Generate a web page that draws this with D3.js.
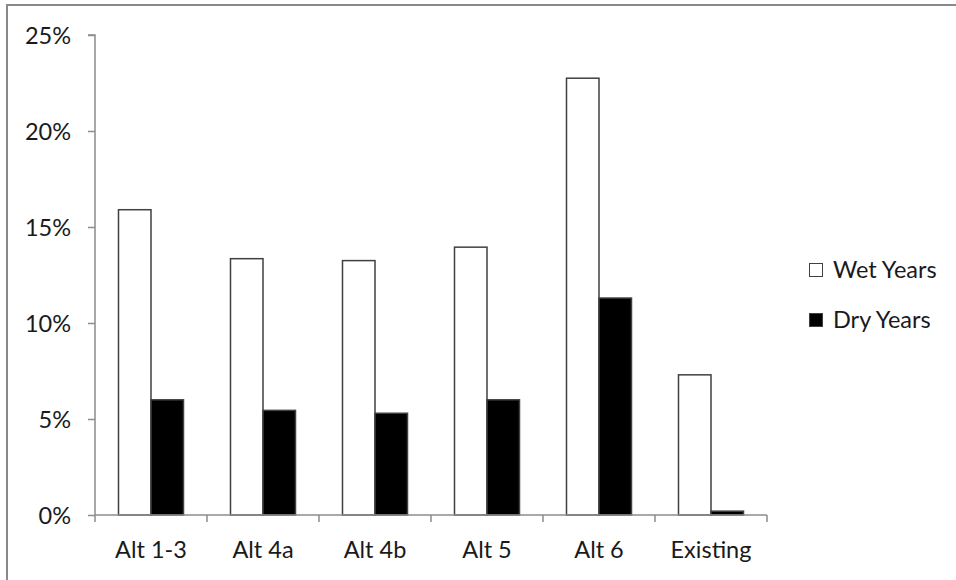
<!DOCTYPE html>
<html>
<head>
<meta charset="utf-8">
<script src="https://cdn.jsdelivr.net/npm/d3@7"></script>
<style>
  html, body { margin: 0; padding: 0; background: #fff; }
  svg { display: block; }
  text { font-family: Lato, "Open Sans", sans-serif; fill: #1a1a1a; }
</style>
</head>
<body>
<svg id="chart" width="956" height="580"></svg>
<script>
const categories = ["Alt 1-3", "Alt 4a", "Alt 4b", "Alt 5", "Alt 6", "Existing"];
const seriesNames = ["Wet Years", "Dry Years"];
const wetYears = [15.9, 13.35, 13.25, 13.95, 22.75, 7.3];
const dryYears = [6.0, 5.45, 5.3, 6.0, 11.3, 0.2];
const yTicks = [0, 5, 10, 15, 20, 25];

const fills = { "Wet Years": "#ffffff", "Dry Years": "#000000" };

const svg = d3.select("#chart");
const W = 956, H = 580;
const FS = "23.5px";

// outer chart border (left & top visible)
svg.append("line").attr("x1", 7).attr("x2", 7).attr("y1", 5).attr("y2", H)
  .attr("stroke", "#898989").attr("stroke-width", 2);
svg.append("line").attr("x1", 6).attr("x2", W).attr("y1", 5).attr("y2", 5)
  .attr("stroke", "#898989").attr("stroke-width", 2);

const plot = { left: 95, right: 767, top: 35, bottom: 515 };

const x0 = d3.scaleBand().domain(categories).range([plot.left, plot.right]).paddingInner(0).paddingOuter(0);
const x1 = d3.scaleBand().domain(seriesNames).range([0, x0.bandwidth()]).paddingInner(0).paddingOuter(0.723);
const y = d3.scaleLinear().domain([0, 25]).range([plot.bottom, plot.top]);

const data = categories.map((c, i) => ({ cat: c, values: [
  { key: "Wet Years", v: wetYears[i] },
  { key: "Dry Years", v: dryYears[i] }
]}));

// bars
const groups = svg.append("g").selectAll("g").data(data).join("g")
  .attr("transform", d => `translate(${x0(d.cat)},0)`);
groups.selectAll("rect").data(d => d.values).join("rect")
  .attr("x", d => x1(d.key))
  .attr("width", x1.bandwidth())
  .attr("y", d => y(d.v))
  .attr("height", d => y(0) - y(d.v))
  .attr("fill", d => fills[d.key])
  .attr("stroke", "#404040")
  .attr("stroke-width", 1.5);

// y axis
const yAxis = d3.axisLeft(y).tickValues(yTicks).tickFormat(d => d + "%").tickSize(7).tickPadding(17);
const gy = svg.append("g").attr("transform", `translate(${plot.left},0)`).call(yAxis);
gy.select(".domain").attr("stroke", "#8c8c8c").attr("stroke-width", 1.5).attr("d", `M-7,${plot.top}H0V${plot.bottom}`);
gy.selectAll(".tick line").attr("stroke", "#8c8c8c").attr("stroke-width", 1.5);
gy.selectAll(".tick text").style("font-size", FS).attr("fill", "#1a1a1a").attr("dy", "0.35em");

// x axis
const xAxis = d3.axisBottom(x0).tickSize(0).tickPadding(35);
const gx = svg.append("g").attr("transform", `translate(0,${plot.bottom})`).call(xAxis);
gx.select(".domain").attr("stroke", "#8c8c8c").attr("stroke-width", 1.5).attr("d", `M${plot.left},0H${plot.right}`);
gx.selectAll(".tick text").style("font-size", FS).attr("fill", "#1a1a1a").attr("dy", "0.35em");
// category boundary ticks
const bounds = categories.map(c => x0(c)).concat([plot.right]);
gx.selectAll(".bound").data(bounds).join("line").attr("class", "bound")
  .attr("x1", d => d).attr("x2", d => d).attr("y1", 0).attr("y2", 7)
  .attr("stroke", "#8c8c8c").attr("stroke-width", 1.5);

// legend
const legend = svg.append("g").attr("transform", "translate(809,263)");
const li = legend.selectAll("g").data(seriesNames).join("g")
  .attr("transform", (d, i) => `translate(0,${i * 50})`);
li.append("rect").attr("x", 0.5).attr("y", 0.5).attr("width", 13).attr("height", 13)
  .attr("fill", d => fills[d]).attr("stroke", "#404040").attr("stroke-width", 1);
li.append("text").attr("x", 24).attr("y", 7).attr("dy", "0.35em")
  .style("font-size", FS).text(d => d);
</script>
</body>
</html>
